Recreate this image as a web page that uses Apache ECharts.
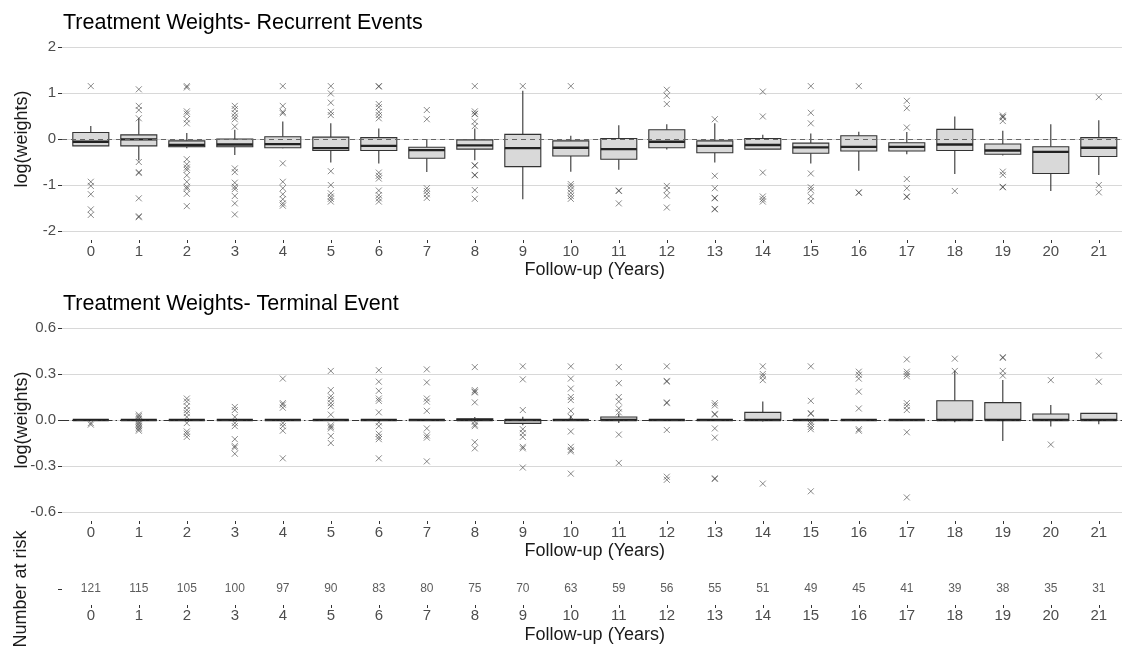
<!DOCTYPE html>
<html>
<head>
<meta charset="utf-8">
<script src="https://cdn.jsdelivr.net/npm/echarts@6/dist/echarts.min.js"></script>
<style>
  html, body { margin: 0; padding: 0; background: #fff; }
  #chart { width: 1122px; height: 648px; }
</style>
</head>
<body>
<div id="chart"></div>
<script>
// Follow-up years shown on every x axis
const years = [0, 1, 2, 3, 4, 5, 6, 7, 8, 9, 10, 11, 12, 13, 14, 15, 16, 17, 18, 19, 20, 21];

// Recurrent-event weights: [lower whisker, Q1, median, Q3, upper whisker] per year
const recurrentBoxes = [
  [-0.15, -0.15, -0.06, 0.14, 0.28],
  [-0.46, -0.15, -0.01, 0.09, 0.45],
  [-0.20, -0.17, -0.13, -0.04, 0.13],
  [-0.35, -0.17, -0.12, 0.00, 0.20],
  [-0.20, -0.19, -0.11, 0.05, 0.38],
  [-0.51, -0.25, -0.20, 0.04, 0.34],
  [-0.53, -0.25, -0.15, 0.03, 0.23],
  [-0.72, -0.42, -0.24, -0.18, 0.00],
  [-0.46, -0.22, -0.14, -0.02, 0.23],
  [-1.31, -0.60, -0.20, 0.10, 1.05],
  [-0.71, -0.37, -0.19, -0.04, 0.07],
  [-0.67, -0.44, -0.22, 0.01, 0.30],
  [-0.23, -0.19, -0.06, 0.20, 0.32],
  [-0.51, -0.30, -0.15, -0.04, 0.34],
  [-0.22, -0.22, -0.13, 0.01, 0.09],
  [-0.53, -0.31, -0.18, -0.09, 0.12],
  [-0.69, -0.26, -0.17, 0.07, 0.16],
  [-0.33, -0.26, -0.17, -0.08, 0.15],
  [-0.76, -0.25, -0.12, 0.21, 0.49],
  [-0.36, -0.33, -0.25, -0.11, 0.18],
  [-1.13, -0.75, -0.28, -0.17, 0.32],
  [-0.78, -0.38, -0.19, 0.03, 0.41]
];

// Recurrent-event outlying weights per year
const recurrentOutliers = [
  [1.15, -0.93, -1.02, -1.2, -1.53, -1.65],
  [1.08, 0.72, 0.63, 0.45, -0.5, -0.72, -0.74, -1.29, -1.68, -1.7],
  [1.15, 1.12, 0.6, 0.55, 0.43, 0.34, -0.44, -0.55, -0.62, -0.67, -0.79, -0.93, -1.04, -1.08, -1.19, -1.46],
  [0.72, 0.65, 0.56, 0.49, 0.43, 0.27, -0.64, -0.72, -0.95, -1.04, -1.09, -1.24, -1.4, -1.64],
  [1.15, 0.72, 0.59, 0.56, -0.53, -0.93, -1.07, -1.2, -1.31, -1.4, -1.45],
  [1.15, 0.99, 0.79, 0.59, 0.52, -0.7, -1.0, -1.18, -1.25, -1.3, -1.36],
  [1.15, 1.14, 0.76, 0.69, 0.59, 0.52, 0.45, -0.73, -0.8, -0.86, -1.12, -1.22, -1.29, -1.36],
  [0.63, 0.43, -1.07, -1.13, -1.2, -1.28],
  [1.15, 0.6, 0.55, 0.54, 0.38, 0.28, -0.57, -0.58, -0.78, -0.79, -1.11, -1.3],
  [1.15],
  [1.15, -0.98, -1.03, -1.1, -1.17, -1.24, -1.3],
  [-1.12, -1.13, -1.4],
  [1.07, 0.94, 0.76, -1.02, -1.11, -1.23, -1.49],
  [0.43, -0.8, -1.07, -1.28, -1.29, -1.52, -1.53],
  [1.03, 0.49, -0.73, -1.25, -1.31, -1.36],
  [1.15, 0.57, 0.34, -0.75, -1.05, -1.11, -1.25, -1.35],
  [1.15, -1.16, -1.17],
  [0.83, 0.67, 0.25, -0.87, -1.07, -1.25, -1.26],
  [-1.13],
  [0.51, 0.48, 0.47, 0.39, -0.71, -0.78, -1.04, -1.05],
  [],
  [0.91, -1.0, -1.16]
];

// Terminal-event weights: [lower whisker, Q1, median, Q3, upper whisker] per year
const terminalBoxes = [
  [0, 0, 0, 0, 0],
  [0, 0, 0, 0, 0],
  [0, 0, 0, 0, 0],
  [0, 0, 0, 0, 0],
  [0, 0, 0, 0, 0],
  [0, 0, 0, 0, 0],
  [0, 0, 0, 0, 0],
  [0, 0, 0, 0, 0],
  [0, 0, 0, 0.008, 0.02],
  [-0.035, -0.022, 0, 0.002, 0.022],
  [0, 0, 0, 0, 0.03],
  [-0.02, 0, 0, 0.02, 0.04],
  [0, 0, 0, 0, 0],
  [0, 0, 0, 0, 0],
  [-0.01, 0, 0, 0.05, 0.12],
  [0, 0, 0, 0, 0],
  [0, 0, 0, 0, 0],
  [0, 0, 0, 0, 0],
  [-0.015, 0, 0, 0.126, 0.32],
  [-0.137, 0, 0, 0.113, 0.261],
  [-0.043, 0, 0, 0.039, 0.098],
  [-0.028, 0, 0, 0.043, 0.043]
];

// Terminal-event outlying weights per year
const terminalOutliers = [
  [-0.02, -0.03],
  [0.035, 0.025, 0.015, 0.005, -0.01, -0.02, -0.03, -0.04, -0.05, -0.06, -0.07],
  [0.14, 0.12, 0.09, 0.065, 0.045, 0.02, -0.02, -0.075, -0.09, -0.11],
  [0.085, 0.065, 0.02, -0.02, -0.04, -0.125, -0.17, -0.18, -0.22],
  [0.27, 0.11, 0.1, 0.08, -0.02, -0.04, -0.07, -0.25],
  [0.32, 0.195, 0.155, 0.135, 0.11, 0.09, 0.035, -0.035, -0.045, -0.055, -0.105, -0.15],
  [0.325, 0.25, 0.19, 0.14, 0.125, 0.05, -0.015, -0.04, -0.09, -0.11, -0.125, -0.25],
  [0.33, 0.245, 0.14, 0.12, 0.06, -0.055, -0.1, -0.115, -0.27],
  [0.345, 0.195, 0.185, 0.18, 0.115, -0.01, -0.03, -0.04, -0.145, -0.185],
  [0.35, 0.265, 0.065, -0.06, -0.085, -0.11, -0.175, -0.185, -0.31],
  [0.35, 0.27, 0.205, 0.15, 0.13, 0.06, 0.02, -0.075, -0.175, -0.195, -0.205, -0.35],
  [0.345, 0.24, 0.15, 0.12, 0.075, 0.05, -0.095, -0.28],
  [0.35, 0.255, 0.25, 0.115, 0.11, -0.065, -0.37, -0.39],
  [0.11, 0.095, 0.04, 0.035, -0.055, -0.115, -0.38, -0.385],
  [0.35, 0.3, 0.285, 0.26, -0.415],
  [0.35, 0.125, 0.045, 0.04, -0.01, -0.025, -0.045, -0.06, -0.465],
  [0.315, 0.295, 0.27, 0.185, 0.075, -0.06, -0.07],
  [0.395, 0.315, 0.3, 0.285, 0.11, 0.09, 0.065, -0.08, -0.505],
  [0.4, 0.32],
  [0.41, 0.405, 0.32, 0.29],
  [0.26, -0.16],
  [0.42, 0.25]
];

// Number of subjects still at risk at each year
const atRisk = [121, 115, 105, 100, 97, 90, 83, 80, 75, 70, 63, 59, 56, 55, 51, 49, 45, 41, 39, 38, 35, 31];

const FONT = '"Liberation Sans", Arial, Helvetica, sans-serif';
const LABEL_GREY = '#4d4d4d';
const TICK_GREY = '#333333';
const GRID_GREY = '#d8d8d8';
const CROSS = 'path://M0,0L10,10M0,10L10,0';

// Box, whiskers and a heavier median bar for one year
function renderBox(params, api) {
  const x = api.value(0);
  const pLo = api.coord([x, api.value(1)]);
  const pQ1 = api.coord([x, api.value(2)]);
  const pMd = api.coord([x, api.value(3)]);
  const pQ3 = api.coord([x, api.value(4)]);
  const pHi = api.coord([x, api.value(5)]);
  const half = api.size([0.75, 0])[0] / 2;
  const cx = pMd[0];
  const stroke = '#333333';
  return {
    type: 'group',
    children: [
      { type: 'line', shape: { x1: cx, y1: pHi[1], x2: cx, y2: pQ3[1] }, style: { stroke, lineWidth: 1.1 } },
      { type: 'line', shape: { x1: cx, y1: pQ1[1], x2: cx, y2: pLo[1] }, style: { stroke, lineWidth: 1.1 } },
      { type: 'rect', shape: { x: cx - half, y: pQ3[1], width: half * 2, height: pQ1[1] - pQ3[1] },
        style: { fill: '#d9d9d9', stroke, lineWidth: 1.1 } },
      { type: 'line', shape: { x1: cx - half, y1: pMd[1], x2: cx + half, y2: pMd[1] },
        style: { stroke: '#222222', lineWidth: 2.3 } }
    ]
  };
}

function boxData(boxes) {
  return years.map((y, i) => [y].concat(boxes[i]));
}

function outlierData(outliers) {
  const out = [];
  years.forEach((y, i) => outliers[i].forEach(v => out.push([y, v])));
  return out;
}

function xAxisFor(gridIndex, offset, labelMargin) {
  return {
    type: 'value',
    gridIndex,
    min: -0.6,
    max: 21.6,
    position: 'bottom',
    offset,
    axisLine: { show: false, onZero: false },
    axisTick: { show: true, customValues: years, length: 3, lineStyle: { color: TICK_GREY, width: 1 } },
    axisLabel: { show: true, customValues: years, margin: labelMargin, color: LABEL_GREY, fontSize: 15, fontFamily: FONT },
    splitLine: { show: false },
    name: 'Follow-up (Years)',
    nameLocation: 'middle',
    nameGap: 21,
    nameMoveOverlap: false,
    nameTextStyle: { color: '#1a1a1a', fontSize: 18, fontFamily: FONT }
  };
}

function yAxisFor(gridIndex, min, max, interval, fmt) {
  return {
    type: 'value',
    gridIndex,
    min, max, interval,
    position: 'left',
    axisLine: { show: false, onZero: false },
    axisTick: { show: true, length: 4, lineStyle: { color: TICK_GREY, width: 1 } },
    axisLabel: { color: LABEL_GREY, fontSize: 15, fontFamily: FONT, margin: 6, formatter: fmt },
    splitLine: { show: true, lineStyle: { color: GRID_GREY, width: 1.2 } },
    name: 'log(weights)',
    nameLocation: 'middle',
    nameGap: 31,
    nameMoveOverlap: false,
    nameRotate: 90,
    nameTextStyle: { color: '#1a1a1a', fontSize: 18, fontFamily: FONT }
  };
}

function outlierSeries(xi, yi, outliers, zeroLine) {
  return {
    type: 'scatter',
    xAxisIndex: xi,
    yAxisIndex: yi,
    data: outlierData(outliers),
    symbol: CROSS,
    symbolSize: 6,
    itemStyle: { color: 'rgba(0,0,0,0)', borderColor: 'rgba(60,60,60,0.75)', borderWidth: 1 },
    z: 4,
    silent: true,
    markLine: {
      silent: true,
      symbol: ['none', 'none'],
      label: { show: false },
      lineStyle: zeroLine,
      data: [{ yAxis: 0 }],
      animation: false
    }
  };
}

const chart = echarts.init(document.getElementById('chart'), null, { renderer: 'canvas' });

chart.setOption({
  animation: false,
  backgroundColor: '#ffffff',
  textStyle: { fontFamily: FONT },
  title: [
    { text: 'Treatment Weights- Recurrent Events', left: 58, top: 7,
      textStyle: { fontSize: 21.5, fontWeight: 'normal', color: '#000', fontFamily: FONT } },
    { text: 'Treatment Weights- Terminal Event', left: 58, top: 288,
      textStyle: { fontSize: 21.5, fontWeight: 'normal', color: '#000', fontFamily: FONT } }
  ],
  grid: [
    { left: 62, top: 47, width: 1065.6, height: 184, containLabel: false, outerBoundsMode: 'none' },
    { left: 62, top: 328, width: 1065.6, height: 184, containLabel: false, outerBoundsMode: 'none' },
    { left: 62, top: 578, width: 1065.6, height: 22, containLabel: false, outerBoundsMode: 'none' }
  ],
  xAxis: [
    xAxisFor(0, 9, 4),
    xAxisFor(1, 9, 4),
    xAxisFor(2, 5, 3)
  ],
  yAxis: [
    yAxisFor(0, -2, 2, 1, v => String(v)),
    yAxisFor(1, -0.6, 0.6, 0.3, v => (Math.abs(v) < 1e-9 ? 0 : v).toFixed(1)),
    {
      type: 'category',
      gridIndex: 2,
      position: 'left',
      data: [''],
      axisLine: { show: false, onZero: false },
      axisTick: { show: true, alignWithLabel: true, length: 4, lineStyle: { color: TICK_GREY, width: 1 } },
      axisLabel: { show: true },
      splitLine: { show: false },
      name: 'Number at risk',
      nameLocation: 'middle',
      nameGap: 32,
      nameMoveOverlap: false,
      nameRotate: 90,
      nameTextStyle: { color: '#1a1a1a', fontSize: 18, fontFamily: FONT }
    }
  ],
  series: [
    {
      type: 'custom',
      xAxisIndex: 0, yAxisIndex: 0,
      renderItem: renderBox,
      encode: { x: 0, y: [1, 2, 3, 4, 5] },
      data: boxData(recurrentBoxes),
      z: 2,
      silent: true
    },
    outlierSeries(0, 0, recurrentOutliers, { color: '#666666', width: 1, type: [5, 4] }),
    {
      type: 'custom',
      xAxisIndex: 1, yAxisIndex: 1,
      renderItem: renderBox,
      encode: { x: 0, y: [1, 2, 3, 4, 5] },
      data: boxData(terminalBoxes),
      z: 2,
      silent: true
    },
    outlierSeries(1, 1, terminalOutliers, { color: '#333333', width: 1, type: [7, 3, 1.5, 3] }),
    {
      type: 'scatter',
      xAxisIndex: 2, yAxisIndex: 2,
      data: years.map((y, i) => [y, 0, atRisk[i]]),
      symbolSize: 0,
      silent: true,
      label: {
        show: true,
        position: 'inside',
        formatter: p => String(p.value[2]),
        color: '#333333',
        fontSize: 12,
        fontFamily: FONT
      }
    }
  ]
});
</script>
</body>
</html>
